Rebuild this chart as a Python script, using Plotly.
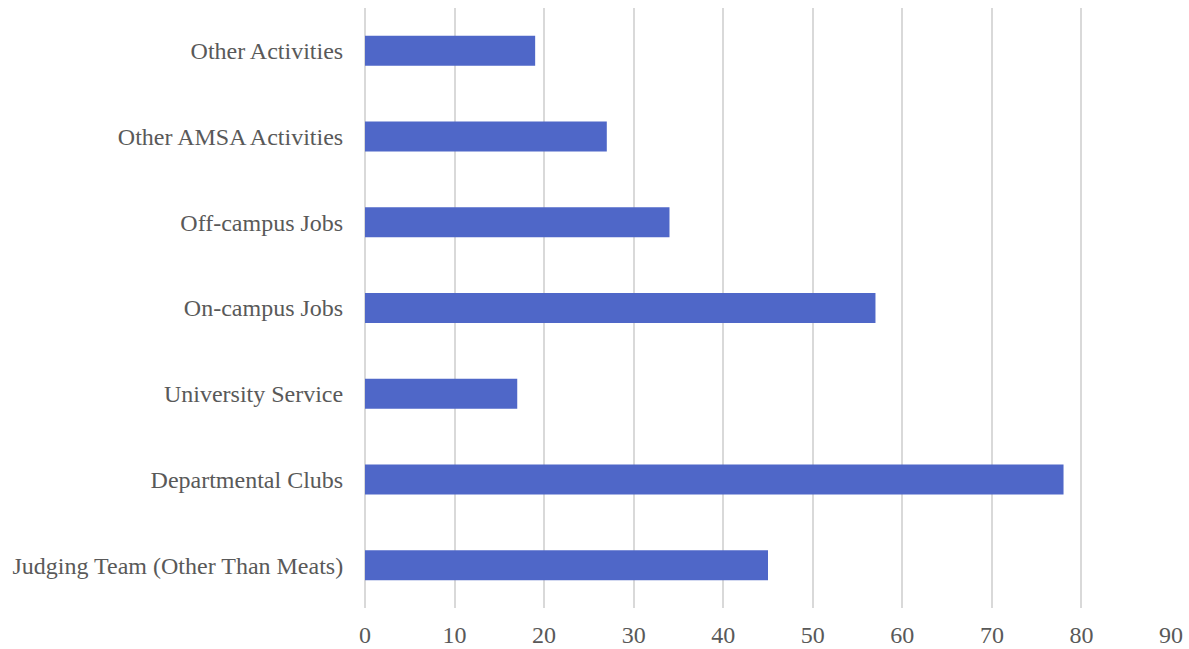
import plotly.graph_objects as go

categories = [
    "Judging Team (Other Than Meats)",
    "Departmental Clubs",
    "University Service",
    "On-campus Jobs",
    "Off-campus Jobs",
    "Other AMSA Activities",
    "Other Activities",
]
values = [45, 78, 17, 57, 34, 27, 19]
x_ticks = [0, 10, 20, 30, 40, 50, 60, 70, 80, 90]

font = dict(family="Times New Roman, serif", size=24, color="#595959")

fig = go.Figure(
    go.Bar(
        x=values,
        y=categories,
        orientation="h",
        marker=dict(color="#4F67C8", line=dict(width=0)),
    )
)

fig.update_layout(
    width=1189,
    height=649,
    margin=dict(l=365, r=18, t=8, b=41, autoexpand=False),
    plot_bgcolor="white",
    paper_bgcolor="white",
    bargap=0.65,
    showlegend=False,
    font=font,
)

fig.update_xaxes(
    range=[0, 90],
    tickvals=x_ticks,
    showgrid=True,
    gridcolor="#d9d9d9",
    gridwidth=1.5,
    zeroline=True,
    zerolinecolor="#d9d9d9",
    zerolinewidth=1.5,
    showline=False,
    ticks="outside",
    ticklen=5,
    tickcolor="rgba(0,0,0,0)",
    tickfont=font,
    automargin=False,
    fixedrange=True,
)

fig.update_yaxes(
    categoryorder="array",
    categoryarray=categories,
    showgrid=False,
    showline=False,
    ticks="outside",
    ticklen=16,
    tickcolor="rgba(0,0,0,0)",
    tickfont=font,
    automargin=False,
    fixedrange=True,
)

fig.write_html("out.html")
